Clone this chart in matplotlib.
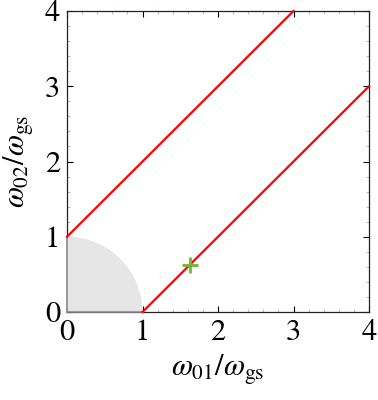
import matplotlib
matplotlib.use("Agg")
import matplotlib.pyplot as plt
from matplotlib.patches import Wedge
import numpy as np

# data
line_upper_x = [0, 3]
line_upper_y = [1, 4]
line_lower_x = [1, 4]
line_lower_y = [0, 3]
disk_radius = 1.0
marker_x = [1.63]
marker_y = [0.63]
ticks = [0, 1, 2, 3, 4]

plt.rcParams['font.family'] = ['STIXGeneral', 'Liberation Serif', 'DejaVu Serif']
plt.rcParams['mathtext.fontset'] = 'stix'

fig = plt.figure(figsize=(3.78, 4.0), dpi=100)
ax = fig.add_axes([67/378, 1-312/400, 302/378, 301/400])

ax.add_patch(Wedge((0, 0), disk_radius, 0, 90, facecolor='#e6e6e6',
                   edgecolor='none', zorder=3, clip_on=False))
ax.plot([0, 0], [0, disk_radius], color='#8a8a8a', lw=1.2, zorder=4, clip_on=False)
ax.plot([0, disk_radius], [0, 0], color='#8a8a8a', lw=1.2, zorder=4, clip_on=False)

ax.plot(line_upper_x, line_upper_y, color='#ff0000', lw=1.6, zorder=5, clip_on=False)
ax.plot(line_lower_x, line_lower_y, color='#ff0000', lw=1.6, zorder=5, clip_on=False)
ax.plot(marker_x, marker_y, marker='+', color='#77b136', ms=12, mew=2, ls='none', zorder=6)

ax.set_xlim(0, 4)
ax.set_ylim(0, 4)
ax.set_xticks(ticks)
ax.set_yticks(ticks)
ax.set_xticks(np.arange(0, 4.01, 0.2), minor=True)
ax.set_yticks(np.arange(0, 4.01, 0.2), minor=True)
ax.tick_params(which='both', direction='in', top=True, right=True, labelsize=22, pad=5)
ax.tick_params(which='major', length=4, width=0.8)
ax.tick_params(which='minor', length=2, width=0.6, color='#b0b090')
for s in ax.spines.values():
    s.set_linewidth(0.9)
    s.set_color('#222222')

ax.set_xlabel(r'$\omega_{01}/\omega_{\mathrm{gs}}$', fontsize=22, labelpad=4)
ax.set_ylabel(r'$\omega_{02}/\omega_{\mathrm{gs}}$', fontsize=22, labelpad=6)

fig.savefig('out.png', dpi=100)
